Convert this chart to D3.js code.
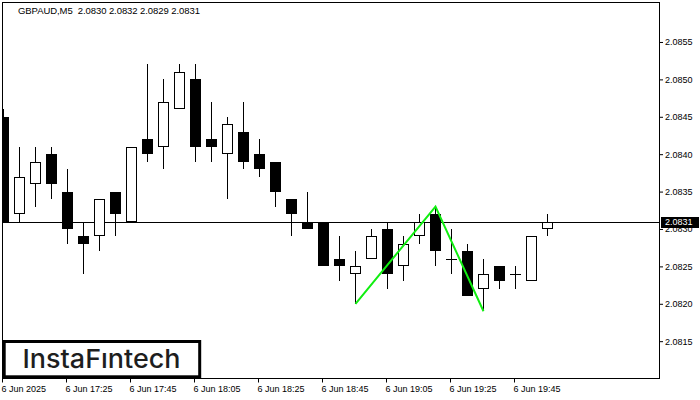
<!DOCTYPE html>
<html><head><meta charset="utf-8">
<script src="https://cdn.jsdelivr.net/npm/d3@7"></script>
<style>html,body{margin:0;padding:0;background:#fff;}svg{display:block;}</style>
</head><body>
<svg id="chart" width="700" height="400"></svg>
<script>
const symbolTitle = "GBPAUD,M5  2.0830 2.0832 2.0829 2.0831";
const times = ["17:05","17:10","17:15","17:20","17:25","17:30","17:35","17:40","17:45","17:50",
  "17:55","18:00","18:05","18:10","18:15","18:20","18:25","18:30","18:35","18:40",
  "18:45","18:50","18:55","19:00","19:05","19:10","19:15","19:20","19:25","19:30",
  "19:35","19:40","19:45","19:50","19:55"];
const openV  = [2.0845,2.0832,2.0836,2.0840,2.0835,2.0829,2.0829,2.0835,2.0831,2.0842,
  2.0841,2.0846,2.0850,2.0842,2.0840,2.0843,2.0840,2.0839,2.0834,2.0831,
  2.0831,2.0826,2.0824,2.0826,2.0830,2.0825,2.0829,2.0832,2.0826,2.0827,
  2.0822,2.0825,2.0824,2.0823,2.0830];
const highV  = [2.0846,2.0841,2.0841,2.0841,2.0838,2.0831,2.0834,2.0835,2.0841,2.0852,
  2.0850,2.0852,2.0852,2.0847,2.0845,2.0847,2.0842,2.0839,2.0834,2.0835,
  2.0831,2.0829,2.0827,2.0830,2.0831,2.0829,2.0832,2.0833,2.0830,2.0828,
  2.0826,2.0825,2.0825,2.0829,2.0832];
const lowV   = [2.0831,2.0831,2.0833,2.0834,2.0828,2.0824,2.0827,2.0829,2.0831,2.0839,
  2.0838,2.0846,2.0839,2.0839,2.0834,2.0838,2.0837,2.0833,2.0829,2.0830,
  2.0825,2.0823,2.0820,2.0826,2.0822,2.0823,2.0828,2.0825,2.0824,2.0821,
  2.0819,2.0822,2.0822,2.0823,2.0829];
const closeV = [2.0831,2.0837,2.0839,2.0836,2.0830,2.0828,2.0834,2.0832,2.0841,2.0840,
  2.0847,2.0851,2.0841,2.0841,2.0844,2.0839,2.0838,2.0835,2.0832,2.0830,
  2.0825,2.0825,2.0825,2.0829,2.0824,2.0828,2.0831,2.0827,2.0826,2.0821,
  2.0824,2.0823,2.0824,2.0829,2.0831];
const currentPrice = 2.0831;
const yTicks = [2.0815,2.0820,2.0825,2.0830,2.0835,2.0840,2.0845,2.0850,2.0855];
const xTickTimes = ["17:05","17:25","17:45","18:05","18:25","18:45","19:05","19:25","19:45"];
const xTickLabels = ["6 Jun 2025","6 Jun 17:25","6 Jun 17:45","6 Jun 18:05","6 Jun 18:25","6 Jun 18:45","6 Jun 19:05","6 Jun 19:25","6 Jun 19:45"];
const patternTimes = ["18:55","19:20","19:35"];
const patternVals = [2.0820,2.0833,2.0819];
const logoText = "InstaF\u0131ntech";

const svg = d3.select("#chart");
const L = 2.5, R = 659.5, T = 2.5, B = 378.5;
const font = "'Liberation Sans', Arial, sans-serif";

const x = d3.scaleBand().domain(times).range([-4.5, -4.5 + 16*times.length]).padding(0);
const cx = t => x(t) + x.bandwidth()/2;
const y = d3.scaleLinear().domain([2.0810078, 2.0860345]).range([378, 2]);

const candles = times.map((t,i)=>({t, o:openV[i], h:highV[i], l:lowV[i], c:closeV[i]}));

svg.append("defs").append("clipPath").attr("id","plot")
  .append("rect").attr("x",L).attr("y",T).attr("width",R-L).attr("height",B-T);

const g = svg.append("g").attr("clip-path","url(#plot)");

// current price line
g.append("line").attr("x1",L).attr("x2",R)
  .attr("y1",Math.round(y(currentPrice))+0.5).attr("y2",Math.round(y(currentPrice))+0.5)
  .attr("stroke","#000").attr("stroke-width",1);

const cg = g.selectAll("g.c").data(candles).join("g").attr("class","c");
cg.append("line")
  .attr("x1",d=>Math.floor(cx(d.t))+0.5).attr("x2",d=>Math.floor(cx(d.t))+0.5)
  .attr("y1",d=>Math.round(y(d.h))).attr("y2",d=>Math.round(y(d.l)))
  .attr("stroke","#000").attr("stroke-width",1);
cg.each(function(d){
  const s = d3.select(this);
  const xc = Math.floor(cx(d.t));
  const yt = Math.round(y(Math.max(d.o,d.c))), yb = Math.round(y(Math.min(d.o,d.c)));
  if (d.o === d.c) {
    s.append("line").attr("x1",xc-5).attr("x2",xc+6).attr("y1",yt+0.5).attr("y2",yt+0.5)
      .attr("stroke","#000").attr("stroke-width",1);
  } else if (d.c > d.o) {
    s.append("rect").attr("x",xc-4.5).attr("y",yt+0.5).attr("width",10).attr("height",Math.max(1,yb-yt-1))
      .attr("fill","#fff").attr("stroke","#000").attr("stroke-width",1);
  } else {
    s.append("rect").attr("x",xc-5).attr("y",yt).attr("width",11).attr("height",Math.max(1,yb-yt))
      .attr("fill","#000");
  }
});

// pattern line
g.append("path")
  .datum(patternTimes.map((t,i)=>[cx(t), y(patternVals[i])]))
  .attr("d", d3.line())
  .attr("fill","none").attr("stroke","#11ee11").attr("stroke-width",2);

// frame
svg.append("rect").attr("x",L).attr("y",T).attr("width",R-L).attr("height",B-T)
  .attr("fill","none").attr("stroke","#000").attr("stroke-width",1);

// right axis
const ya = svg.append("g").attr("transform",`translate(${R+0.5},0)`)
  .call(d3.axisRight(y).tickValues(yTicks).tickFormat(d3.format(".4f")).tickSize(3).tickPadding(2));
ya.select(".domain").remove();
ya.selectAll("text").attr("font-family",font).attr("font-size","9px").attr("fill","#000");
ya.selectAll("line").attr("stroke","#000");

// current price label
const py = y(currentPrice);
svg.append("rect").attr("x",661).attr("y",Math.round(py)-5).attr("width",38).attr("height",11).attr("fill","#000");
svg.append("text").attr("x",665).attr("y",py).attr("dy","0.34em")
  .attr("font-family",font).attr("font-size","9px").attr("fill","#fff").text(d3.format(".4f")(currentPrice));

// bottom axis
const xa = svg.append("g");
xTickTimes.forEach((t,i)=>{
  const xt = Math.floor(cx(t))-0.5;
  xa.append("line").attr("x1",xt).attr("x2",xt).attr("y1",B).attr("y2",B+4).attr("stroke","#000");
  xa.append("text").attr("x",xt-1).attr("y",392).attr("font-family",font).attr("font-size","9px")
    .attr("fill","#000").text(xTickLabels[i]);
});

// title
svg.append("text").attr("x",18).attr("y",14).attr("font-family",font).attr("font-size","9.5px")
  .attr("fill","#000").attr("xml:space","preserve").style("white-space","pre")
  .attr("textLength",182).attr("lengthAdjust","spacing").text(symbolTitle);

// logo
svg.append("rect").attr("x",4.2).attr("y",341.5).attr("width",195.5).attr("height",35.3)
  .attr("fill","#fff").attr("stroke","#000").attr("stroke-width",3);
svg.append("text").attr("x",22.5).attr("y",368).attr("font-family","Inter, Lato, sans-serif")
  .attr("font-weight",500).attr("font-size","26px").attr("fill","#1e1e1e")
  .attr("textLength",158).attr("lengthAdjust","spacingAndGlyphs").text(logoText);
</script>
</body></html>
